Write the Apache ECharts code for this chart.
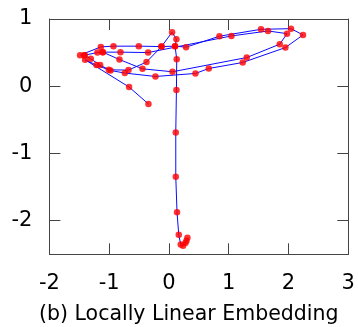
<!DOCTYPE html>
<html>
<head>
<meta charset="utf-8">
<script src="https://cdn.jsdelivr.net/npm/echarts@6/dist/echarts.min.js"></script>
<style>html,body{margin:0;padding:0;background:#fff;}#c{width:358px;height:327px;}</style>
</head>
<body>
<div id="c"></div>
<script>
// Tick values
const xTicks = [-2, -1, 0, 1, 2, 3];
const yTicks = [-2, -1, 0, 1];
const titleText = '(b) Locally Linear Embedding';

// Trajectory segments (x, y)
const segmentA = [
  [0.309, -2.255], [0.293, -2.299], [0.276, -2.333], [0.236, -2.373], [0.197, -2.353],
  [0.164, -2.210], [0.135, -1.874], [0.114, -1.345], [0.114, -0.689], [0.125, -0.056],
  [0.130, 0.403], [0.102, 0.596], [0.125, 0.699], [0.052, 0.803], [-0.125, 0.590],
  [-0.376, 0.359], [-0.677, 0.240], [-1.007, 0.244], [-1.212, 0.314], [-1.403, 0.393],
  [-0.667, -0.012], [-0.343, -0.264]
];
const segmentB = [
  [-1.487, 0.462], [-1.140, 0.585], [-0.928, 0.596], [-0.505, 0.596], [-0.125, 0.590],
  [0.102, 0.596], [0.286, 0.581], [0.844, 0.744], [1.540, 0.847], [2.042, 0.856],
  [2.242, 0.763], [1.948, 0.575], [1.234, 0.353], [0.666, 0.264], [0.443, 0.190],
  [-0.226, 0.145], [-0.739, 0.196], [-0.978, 0.234], [-1.151, 0.314], [-1.308, 0.407],
  [-1.413, 0.462]
];
const segmentC = [
  [-1.413, 0.462], [-1.196, 0.501], [-1.107, 0.507], [-0.811, 0.507], [-0.349, 0.501],
  [1.045, 0.748], [1.657, 0.822], [1.975, 0.782], [1.853, 0.625], [1.301, 0.427],
  [0.059, 0.215], [-0.443, 0.259], [-0.828, 0.397], [-1.107, 0.507]
];

const FONT = 'DejaVu Sans';
const allPoints = segmentA.concat(segmentB, segmentC);

const lineSeries = [segmentA, segmentB, segmentC].map(seg => ({
  type: 'line', data: seg, showSymbol: false, symbol: 'none',
  lineStyle: { color: '#0a0aff', width: 1 }, z: 2, silent: true, animation: false
}));

const axisCommon = {
  axisLine: { show: true, onZero: false, lineStyle: { color: '#444', width: 1 } },
  axisTick: { show: true, inside: true, length: 11, lineStyle: { color: '#444', width: 1 } },
  splitLine: { show: false }
};

const chart = echarts.init(document.getElementById('c'), null, { renderer: 'canvas' });
chart.setOption({
  animation: false,
  grid: { left: 49.4, right: 9.7, top: 19, bottom: 72.7, containLabel: false },
  title: {
    text: titleText, left: 39, top: 304, padding: 0,
    textStyle: { fontFamily: FONT, fontSize: 20.5, fontWeight: 'normal', color: '#000' }
  },
  xAxis: [
    Object.assign({}, axisCommon, {
      type: 'value', position: 'bottom', min: -2, max: 3, interval: 1,
      axisLabel: { show: true, margin: 19, fontFamily: FONT, fontSize: 21, color: '#000',
        formatter: v => (xTicks.includes(v) ? String(v) : '') }
    }),
    Object.assign({}, axisCommon, {
      type: 'value', position: 'top', min: -2, max: 3, interval: 1,
      axisLabel: { show: false }
    })
  ],
  yAxis: [
    Object.assign({}, axisCommon, {
      type: 'value', position: 'left', min: -2.5, max: 1,
      axisTick: Object.assign({}, axisCommon.axisTick, { customValues: yTicks }),
      axisLabel: { show: true, margin: 17, fontFamily: FONT, fontSize: 21, color: '#000',
        customValues: yTicks, formatter: v => String(v) }
    }),
    Object.assign({}, axisCommon, {
      type: 'value', position: 'right', min: -2.5, max: 1,
      axisTick: Object.assign({}, axisCommon.axisTick, { customValues: yTicks }),
      axisLabel: { show: false }
    })
  ],
  series: lineSeries.concat([{
    type: 'scatter', data: allPoints, symbol: 'circle', symbolSize: 6.5,
    itemStyle: { color: '#ff0000' }, z: 3, silent: true, animation: false
  }])
});
</script>
</body>
</html>
